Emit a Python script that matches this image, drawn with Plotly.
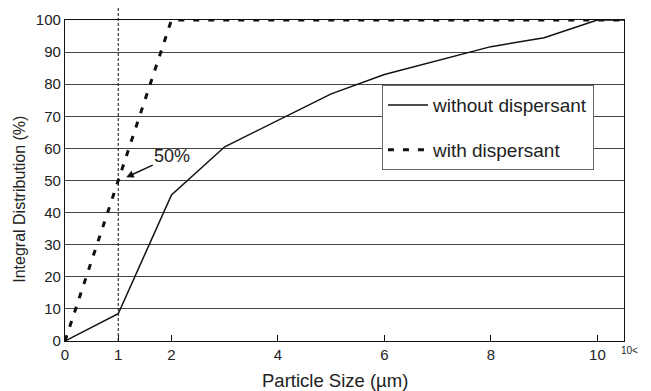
import plotly.graph_objects as go

# Data
size_without = [0, 1, 2, 3, 5, 6, 8, 9, 10, 10.5]
dist_without = [0, 8.5, 45.5, 60.5, 77, 83, 91.7, 94.5, 100, 100]

size_with = [0, 2, 10.5]
dist_with = [0, 100, 100]

x_tickvals = [0, 1, 2, 4, 6, 8, 10]
x_ticktext = ["0", "1", "2", "4", "6", "8", "10"]
y_tickvals = [0, 10, 20, 30, 40, 50, 60, 70, 80, 90, 100]

x_title = "Particle Size (µm)"
y_title = "Integral Distribution (%)"

marker_x = 1          # vertical reference line position
label_pt = (1.15, 51)  # "50%" arrow target

FONT = "Liberation Sans, Arial, sans-serif"
TXT = "#222222"

fig = go.Figure()
fig.add_trace(go.Scatter(
    x=size_without, y=dist_without, mode="lines", name="without dispersant",
    line=dict(color="#111111", width=1.5), legendgroup="a"))
fig.add_trace(go.Scatter(
    x=size_with, y=dist_with, mode="lines", name="with dispersant",
    line=dict(color="#111111", width=3, dash="6px,9px"), legendgroup="b"))

fig.add_shape(type="line", xref="x", yref="paper", x0=marker_x, x1=marker_x,
              y0=0, y1=1.037, line=dict(color="#111111", width=1, dash="3px,2px"),
              layer="above")

fig.add_annotation(x=label_pt[0], y=label_pt[1], xref="x", yref="y",
                   text="50%", showarrow=True, ax=46, ay=-21,
                   arrowhead=2, arrowsize=1, arrowwidth=1.5, arrowcolor="#111111",
                   font=dict(family=FONT, size=18, color=TXT))

fig.add_annotation(x=1.0, y=0, xref="paper", yref="paper", text="10<",
                   showarrow=False, xanchor="center", yanchor="top", xshift=5, yshift=-2,
                   font=dict(family=FONT, size=10, color=TXT))

# axis titles (placed as in the reference, slightly off-centre)
fig.add_annotation(x=0.4835, y=0, xref="paper", yref="paper", text=x_title,
                   showarrow=False, xanchor="center", yanchor="middle", yshift=-39,
                   font=dict(family=FONT, size=18.5, color=TXT))
fig.add_annotation(x=0, y=0.44, xref="paper", yref="paper", text=y_title,
                   showarrow=False, xanchor="center", yanchor="middle", xshift=-45,
                   textangle=-90, font=dict(family=FONT, size=16, color=TXT))

fig.update_layout(
    width=651, height=391,
    margin=dict(l=65, r=27, t=20, b=50),
    plot_bgcolor="white", paper_bgcolor="white",
    font=dict(family=FONT, size=15, color=TXT),
    showlegend=True,
    legend=dict(x=0.567, y=0.797, xanchor="left", yanchor="top",
                bgcolor="white", bordercolor="#666666", borderwidth=1,
                font=dict(family=FONT, size=19, color=TXT),
                tracegroupgap=17, itemwidth=40),
)
fig.update_xaxes(range=[0, 10.5], tickvals=x_tickvals, ticktext=x_ticktext,
                 ticks="inside", ticklen=6, tickcolor="#111111",
                 showline=True, linecolor="#111111", linewidth=1.2, mirror=True,
                 showgrid=False, zeroline=False, automargin=False,
                 tickfont=dict(family=FONT, size=15, color=TXT))
fig.update_yaxes(range=[0, 100], tickvals=y_tickvals,
                 ticks="", showline=True, linecolor="#111111", linewidth=1.2, mirror=True,
                 showgrid=True, gridcolor="#444444", gridwidth=1, zeroline=False,
                 automargin=False,
                 tickfont=dict(family=FONT, size=15, color=TXT))

fig.write_html("out.html")
